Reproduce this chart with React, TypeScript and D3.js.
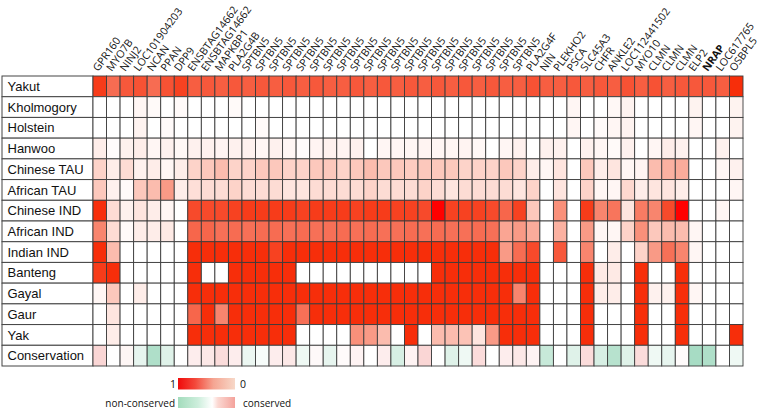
import React from "react";
import * as d3 from "d3";

const genes = [
  "GPR160", "MYO7B", "NINJ2", "LOC101904203", "NCAN", "PPAN", "DPP9",
  "ENSBTAG14662", "ENSBTAG14662", "MAPKBP1", "PLA2G4B",
  "SPTBN5", "SPTBN5", "SPTBN5", "SPTBN5", "SPTBN5", "SPTBN5", "SPTBN5",
  "SPTBN5", "SPTBN5", "SPTBN5", "SPTBN5", "SPTBN5", "SPTBN5", "SPTBN5",
  "SPTBN5", "SPTBN5", "SPTBN5", "SPTBN5", "SPTBN5", "SPTBN5", "SPTBN5",
  "PLA2G4F", "NIN", "PLEKHO2", "PSCA", "SLC45A3", "CHFR", "ANKLE2",
  "LOC112441502", "MYO10", "CLMN", "CLMN", "CLMN", "ELP2", "NRAP",
  "LOC617765", "OSBPL5",
];
const boldGenes = ["NRAP"];

const breeds = [
  "Yakut", "Kholmogory", "Holstein", "Hanwoo", "Chinese TAU", "African TAU",
  "Chinese IND", "African IND", "Indian IND", "Banteng", "Gayal", "Gaur", "Yak",
];
const conservationLabel = "Conservation";

const yakut = [0.9, 0.72, 0.8, 0.82, 0.72, 0.82, 0.88, 0.78, 0.8, 0.78, 0.8, 0.78, 0.8, 0.78, 0.8, 0.78, 0.8, 0.78, 0.78, 0.8, 0.78, 0.8, 0.78, 0.8, 0.78, 0.8, 0.78, 0.8, 0.78, 0.8, 0.78, 0.78, 0.82, 0.78, 0.78, 0.8, 0.78, 0.8, 0.78, 0.82, 0.78, 0.82, 0.78, 0.8, 0.8, 0.8, 0.78, 0.95];
const kholmogory = [0, 0, 0, 0.05, 0.03, 0, 0.03, 0, 0, 0, 0.03, 0, 0, 0, 0, 0, 0, 0, 0, 0, 0, 0, 0, 0, 0, 0, 0, 0, 0, 0, 0, 0, 0, 0, 0, 0.05, 0, 0, 0.04, 0.07, 0, 0, 0, 0, 0.07, 0, 0, 0.07];
const holstein = [0, 0, 0, 0.07, 0, 0.03, 0, 0, 0, 0, 0, 0, 0.03, 0, 0, 0, 0, 0, 0, 0, 0, 0, 0, 0, 0, 0, 0, 0, 0, 0, 0, 0, 0, 0, 0, 0.05, 0, 0.03, 0.05, 0.07, 0, 0, 0, 0, 0.05, 0, 0, 0.07];
const hanwoo = [0.1, 0.02, 0.08, 0.1, 0.05, 0.08, 0.04, 0.08, 0.08, 0.06, 0.08, 0.08, 0.05, 0.08, 0.05, 0.02, 0.06, 0.08, 0.06, 0.08, 0, 0.05, 0.05, 0.05, 0.06, 0.05, 0.05, 0.06, 0.04, 0, 0.05, 0.08, 0, 0.08, 0.08, 0, 0.08, 0.05, 0.03, 0.08, 0, 0.05, 0.1, 0.08, 0, 0, 0.08, 0];
const chineseTAU = [0.25, 0.1, 0.2, 0.08, 0.1, 0.05, 0.1, 0.25, 0.3, 0.35, 0.25, 0.25, 0.3, 0.3, 0.25, 0.25, 0.3, 0.3, 0.25, 0.3, 0.35, 0.3, 0.3, 0.28, 0.3, 0.3, 0.3, 0.25, 0.25, 0.25, 0.3, 0.25, 0.1, 0.05, 0.15, 0, 0.3, 0.1, 0.15, 0.05, 0.06, 0.35, 0.4, 0.42, 0, 0, 0.05, 0.08];
const africanTAU = [0.3, 0.08, 0.03, 0.3, 0.35, 0.5, 0.1, 0.18, 0.2, 0.2, 0.25, 0.2, 0.2, 0.2, 0.15, 0.15, 0.2, 0.2, 0.2, 0.2, 0.25, 0.2, 0.2, 0.2, 0.25, 0.2, 0.15, 0.2, 0.2, 0.2, 0.2, 0.15, 0.25, 0, 0.15, 0, 0.25, 0.05, 0.05, 0.22, 0.1, 0.15, 0.15, 0.1, 0, 0, 0, 0.05];
const chineseIND = [0.95, 0.2, 0.08, 0.15, 0.1, 0.05, 0, 0.85, 0.85, 0.85, 0.88, 0.9, 0.9, 0.9, 0.9, 0.88, 0.9, 0.9, 0.9, 0.88, 0.9, 0.9, 0.88, 0.88, 0.85, 1.0, 0.88, 0.88, 0.88, 0.85, 0.75, 0.88, 0.3, 0, 0.55, 0, 0.9, 0.6, 0.68, 0.15, 0.65, 0.6, 0.85, 1.0, 0, 0, 0.05, 0];
const africanIND = [0.6, 0.2, 0.03, 0.1, 0.1, 0.12, 0, 0.75, 0.75, 0.7, 0.72, 0.7, 0.72, 0.72, 0.7, 0.72, 0.7, 0.7, 0.72, 0.7, 0.72, 0.7, 0.7, 0.72, 0.7, 0.72, 0.7, 0.7, 0.72, 0.7, 0.45, 0.5, 0.42, 0, 0.4, 0, 0.5, 0.05, 0.05, 0.25, 0.55, 0.3, 0.35, 0.35, 0.05, 0, 0, 0];
const indianIND = [0.95, 0.35, 0, 0, 0, 0, 0, 0.95, 0.95, 0.95, 0.95, 0.95, 0.95, 0.88, 0.95, 0.95, 0.95, 0.95, 0.95, 0.95, 0.95, 0.95, 0.95, 0.95, 0.95, 0.95, 0.95, 0.95, 0.95, 0.95, 0.5, 0.72, 0.85, 0, 0.8, 0, 0.6, 0, 0.1, 0, 0.25, 0.5, 0.7, 0.6, 0.05, 0, 0, 0];
const banteng = [0.9, 0.95, 0, 0, 0, 0, 0, 0.95, 0, 0, 0.95, 0.95, 0.95, 0.95, 0.95, 0, 0, 0, 0, 0, 0, 0, 0, 0, 0, 0.95, 0.95, 0.95, 0.95, 0.95, 0.95, 0.95, 0.95, 0, 0, 0, 0.95, 0.12, 0.12, 0, 0.95, 0, 0, 0.95, 0, 0, 0, 0];
const gayal = [0.05, 0.3, 0, 0.1, 0, 0, 0, 0.95, 0.95, 0.95, 0.95, 0.95, 0.95, 0.95, 0.95, 0.95, 0.95, 0.95, 0.95, 0.95, 0.95, 0.95, 0.95, 0.95, 0.95, 0.95, 0.95, 0.95, 0.95, 0.95, 0.95, 0.6, 0.95, 0, 0, 0, 0.95, 0.1, 0.1, 0, 0.95, 0.08, 0.08, 0.95, 0.05, 0, 0, 0];
const gaur = [0, 0.15, 0, 0, 0, 0, 0, 0.75, 0.95, 0.6, 0.95, 0.95, 0.95, 0.95, 0.95, 0.7, 0.95, 0.95, 0.95, 0.95, 0.95, 0.95, 0.95, 0.95, 0.95, 0.95, 0.95, 0.95, 0.95, 0.95, 0.95, 0.95, 0.95, 0, 0, 0, 0.95, 0, 0, 0, 0.95, 0, 0, 0.95, 0, 0, 0, 0];
const yak = [0, 0.1, 0, 0, 0, 0, 0, 0.95, 0.95, 0.95, 0.95, 0.95, 0.95, 0.95, 0.95, 0, 0, 0, 0, 0.55, 0.5, 0.35, 0, 0.95, 0, 0.35, 0.35, 0.32, 0.15, 0.5, 0.95, 0.95, 0.95, 0, 0, 0, 0.95, 0, 0, 0, 0.95, 0, 0, 0.95, 0, 0, 0, 0.95];
const conservation = [0.35, 0, 0.08, -0.15, -0.5, -0.2, 0, 0.15, 0.2, 0.3, 0.15, -0.12, -0.05, 0.15, 0.2, -0.1, 0.05, -0.15, 0.03, 0.1, 0, 0.15, -0.25, 0.1, 0.35, 0, -0.2, -0.1, 0.3, 0, 0.15, 0.2, 0.1, -0.35, 0, -0.2, 0.3, -0.25, -0.45, -0.2, 0.3, -0.1, -0.15, 0.03, -0.55, -0.5, 0, -0.1];

const breedValues = [yakut, kholmogory, holstein, hanwoo, chineseTAU, africanTAU, chineseIND, africanIND, indianIND, banteng, gayal, gaur, yak];

const W = 760;
const H = 411;

export default function App() {
  const rows = [...breeds, conservationLabel];
  const x = d3.scaleBand<number>().domain(d3.range(genes.length)).range([93, 743]).padding(0);
  const y = d3.scaleBand<string>().domain(rows).range([76, 366]).padding(0);
  const bw = x.bandwidth();
  const bh = y.bandwidth();

  const heat = d3
    .scaleLinear<string>()
    .domain([0, 0.25, 0.5, 0.75, 0.95, 1])
    .range(["#ffffff", "#fdd3c9", "#f99a86", "#f7664b", "#f72e0a", "#ff0000"])
    .interpolate(d3.interpolateRgb)
    .clamp(true);
  const cons = d3
    .scaleLinear<string>()
    .domain([-1, 0, 1])
    .range(["#5fbf93", "#ffffff", "#f08a86"])
    .clamp(true);

  const labelFont = "'Liberation Sans', Arial, sans-serif";
  const geneFont = "'Open Sans', sans-serif";

  return (
    <svg
      width={W}
      height={H}
      style={{ position: "absolute", left: 0, top: 0, background: "#fff" }}
    >
      <defs>
        <linearGradient id="gHeat" x1="0" x2="1" y1="0" y2="0">
          <stop offset="0%" stopColor="#f00a0a" />
          <stop offset="30%" stopColor="#f3483a" />
          <stop offset="62%" stopColor="#f5a592" />
          <stop offset="100%" stopColor="#f7d8c8" />
        </linearGradient>
        <linearGradient id="gCons" x1="0" x2="1" y1="0" y2="0">
          <stop offset="0%" stopColor="#a3dcbc" />
          <stop offset="35%" stopColor="#cdeedc" />
          <stop offset="60%" stopColor="#ffffff" />
          <stop offset="70%" stopColor="#fbd8d2" />
          <stop offset="100%" stopColor="#f4a29b" />
        </linearGradient>
      </defs>

      {/* column labels */}
      {genes.map((g, i) => {
        const cx = (x(i) as number) + bw / 2 - 1.5;
        return (
          <text
            key={"g" + i}
            transform={`translate(${cx},72) rotate(-54)`}
            fontFamily={geneFont}
            fontSize={10.6}
            fontWeight={boldGenes.includes(g) ? 700 : 400}
            fill="#111"
          >
            {g}
          </text>
        );
      })}

      {/* row label boxes */}
      {rows.map((r) => (
        <g key={"r" + r}>
          <rect
            x={2}
            y={y(r) as number}
            width={91}
            height={bh}
            fill="#fff"
            stroke="#444"
            strokeWidth={1}
          />
          <text
            x={7.5}
            y={(y(r) as number) + bh / 2 + 4.6}
            fontFamily={labelFont}
            fontSize={13}
            fill="#111"
          >
            {r}
          </text>
        </g>
      ))}

      {/* heat cells */}
      {breedValues.map((vals, ri) =>
        vals.map((v, ci) => (
          <rect
            key={`c${ri}-${ci}`}
            x={x(ci) as number}
            y={y(breeds[ri]) as number}
            width={bw}
            height={bh}
            fill={heat(v)}
            stroke="#3c3c3c"
            strokeWidth={0.9}
          />
        ))
      )}
      {conservation.map((v, ci) => (
        <rect
          key={`k${ci}`}
          x={x(ci) as number}
          y={y(conservationLabel) as number}
          width={bw}
          height={bh}
          fill={cons(v)}
          stroke="#3c3c3c"
          strokeWidth={0.9}
        />
      ))}

      {/* legend */}
      <rect x={178} y={378} width={57} height={11.5} fill="url(#gHeat)" />
      <text x={176} y={388} textAnchor="end" fontFamily={geneFont} fontSize={10.5} fill="#111">
        1
      </text>
      <text x={240} y={388} fontFamily={geneFont} fontSize={10.5} fill="#111">
        0
      </text>
      <rect x={178} y={397} width={57} height={11} fill="url(#gCons)" />
      <text x={175} y={406.5} textAnchor="end" fontFamily={geneFont} fontSize={10} fill="#111">
        non-conserved
      </text>
      <text x={243} y={406.5} fontFamily={geneFont} fontSize={10} fill="#111">
        conserved
      </text>
    </svg>
  );
}
